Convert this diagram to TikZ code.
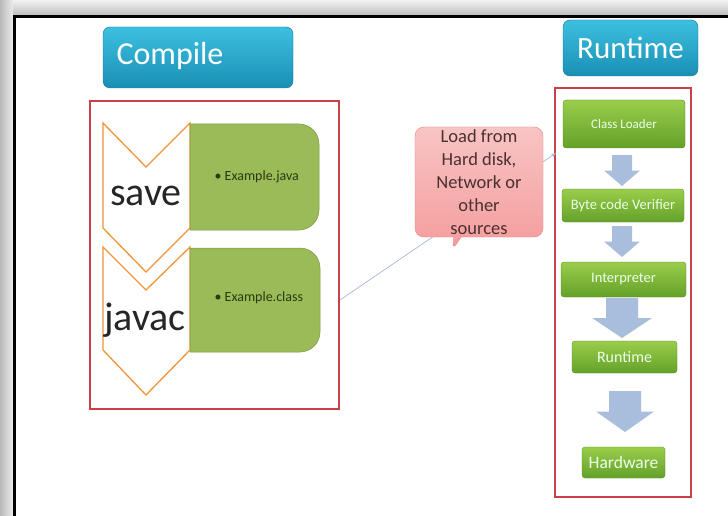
\documentclass[tikz,border=0pt]{standalone}
\usepackage{fontspec}
\setmainfont{Carlito}
\usetikzlibrary{shapes.callouts,arrows.meta,calc}
\definecolor{cyanA}{HTML}{3CC0E0}
\definecolor{cyanB}{HTML}{1A8FB5}
\definecolor{grnA}{HTML}{9ACD4A}
\definecolor{grnB}{HTML}{64A12A}
\definecolor{olive}{HTML}{9BBB59}
\definecolor{oliveD}{HTML}{7A9A40}
\definecolor{redline}{HTML}{C8404A}
\definecolor{chev}{HTML}{F0953A}
\definecolor{pinkA}{HTML}{F8C4C4}
\definecolor{pinkB}{HTML}{F49C9C}
\definecolor{barrow}{HTML}{A9BEDC}
\definecolor{linkc}{HTML}{A8B8D8}
\definecolor{filetxt}{HTML}{2A3A10}
\definecolor{calltxt}{HTML}{4A3030}
\tikzset{
  header/.style={rounded corners=7pt, top color=cyanA, bottom color=cyanB,
    draw=cyanB!80!black, line width=0.4pt, text=white, inner sep=0pt},
  stage/.style={rounded corners=3pt, top color=grnA, bottom color=grnB,
    draw=grnB!85!black, line width=0.3pt, text=white!92!green},
  framebox/.style={draw=redline, line width=1.2pt},
  chevron/.style={draw=chev, line width=1.3pt, fill=white},
  filebox/.style={fill=olive, draw=oliveD, line width=0.5pt},
  blockarrow/.style={fill=barrow, draw=none},
  link/.style={draw=linkc, line width=0.7pt},
  verb/.style={font=\fontsize{40}{42}\selectfont, text=black!85},
  filename/.style={anchor=west, text=filetxt, font=\fontsize{14}{15}\selectfont},
}
% block arrow: x, top, bottom, half shaft, half head
\newcommand{\blockarr}[5]{%
  \fill[blockarrow] (#1-#4,#2) -- (#1+#4,#2) -- (#1+#4,{#2+0.5*(#3-#2)}) -- (#1+#5,{#2+0.5*(#3-#2)})
    -- (#1,#3) -- (#1-#5,{#2+0.5*(#3-#2)}) -- (#1-#4,{#2+0.5*(#3-#2)}) -- cycle;}
\begin{document}
\begin{tikzpicture}[x=1pt,y=-1pt]
\useasboundingbox (0,0) rectangle (728,516);
% page with soft grey shadow along the left and top edges
\fill[white] (0,0) rectangle (728,516);
\shade[left color=gray!55, right color=gray!15] (0,0) rectangle (13,516);
\shade[top color=gray!10, bottom color=gray!50] (13,0) rectangle (728,15);
\draw[black, line width=2.4pt] (14.5,520) -- (14.5,16.5) -- (732,16.5);

% ---------- compile side ----------
\node[header, minimum width=190pt, minimum height=61pt] (compile) at (198,57.5) {};
\node[anchor=west, text=white, font=\fontsize{32}{34}\selectfont] (ctext) at (113,56) {Compile};
\node[framebox, minimum width=249pt, minimum height=308pt, inner sep=0pt] (cframe) at (214.5,255) {};

% chevrons
\draw[chevron] (103,123) -- (146,167) -- (190,123) -- (190,228) -- (146,272) -- (103,228) -- cycle;
\draw[chevron] (103,247) -- (146,290) -- (190,247) -- (190,350) -- (146,395) -- (103,350) -- cycle;
\node[verb] (save) at (146,196) {save};
\node[verb] (javac) at (145,320) {javac};

% file boxes
\draw[filebox] (190,124) -- (299,124) arc[start angle=90,end angle=0,radius=20pt] -- (319,210)
  arc[start angle=0,end angle=-90,radius=20pt] -- (190,230) -- cycle;
\node[filename] (javaf) at (211,177) {\textbullet\ Example.java};
\draw[filebox] (190,248) -- (300,248) arc[start angle=90,end angle=0,radius=20pt] -- (320,332)
  arc[start angle=0,end angle=-90,radius=20pt] -- (190,352) -- cycle;
\node[filename] (classf) at (211,298) {\textbullet\ Example.class};

% ---------- runtime side ----------
\node[header, minimum width=135pt, minimum height=56pt, font=\fontsize{31}{33}\selectfont]
  (runtime) at (630.5,48) {Runtime};
\node[framebox, minimum width=136pt, minimum height=409pt, inner sep=0pt] (rframe) at (623,292.5) {};

% link from the class file to the loader
\coordinate (cls) at (340,300);
\coordinate (ld) at (556,153);
\draw[link, -{Stealth[length=5pt,width=4pt]}] (cls) -- (ld);

% callout
\node[rectangle callout, rounded corners=9pt, top color=pinkA, bottom color=pinkB,
  draw=pinkB!80!red, line width=0.4pt, minimum width=128pt, minimum height=110pt,
  callout absolute pointer={(452,251)}, align=center, text=calltxt,
  font=\fontsize{18.5}{23}\selectfont, inner sep=0pt]
  (load) at (479,182) {Load from\\Hard disk,\\Network or\\other\\sources};

% stages
\node[stage, minimum width=122pt, minimum height=48pt, font=\fontsize{13}{14}\selectfont] (cl) at (624,124) {Class Loader};
\node[stage, minimum width=122pt, minimum height=33pt, font=\fontsize{14.5}{15}\selectfont, inner xsep=1pt] (bv) at (623,205.5) {Byte code Verifier};
\node[stage, minimum width=125pt, minimum height=35pt, font=\fontsize{14.5}{15}\selectfont] (ip) at (623.5,279.5) {Interpreter};
\node[stage, minimum width=105pt, minimum height=32pt, font=\fontsize{16}{17}\selectfont] (rt) at (624.5,357) {Runtime};
\node[stage, minimum width=83pt, minimum height=31pt, font=\fontsize{17.5}{18}\selectfont] (hw) at (623.5,462.5) {Hardware};

% block arrows between stages
\blockarr{622}{155}{186}{10}{18}
\blockarr{622}{226}{257}{10}{18}
\blockarr{622}{298}{338}{16}{30}
\blockarr{625}{391}{432}{16}{29}
\end{tikzpicture}
\end{document}
